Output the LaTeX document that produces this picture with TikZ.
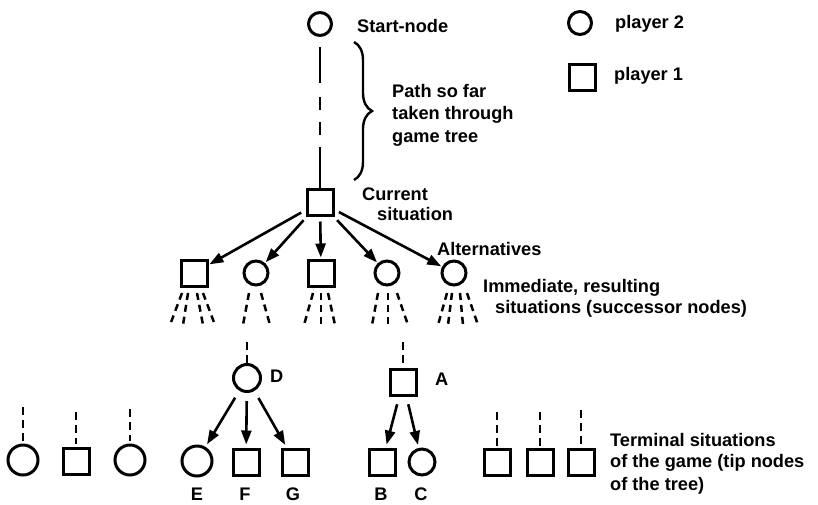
\documentclass[tikz,border=0pt]{standalone}
\usepackage{fontspec}
\setmainfont{Liberation Sans}
\usetikzlibrary{arrows.meta,calc,decorations.pathreplacing}
\begin{document}
\begin{tikzpicture}[x=1pt,y=-1pt,
  sq/.style={draw,line width=3pt,minimum size=26pt,inner sep=0pt},
  circ/.style={draw,circle,line width=3pt,minimum size=#1,inner sep=0pt},
  circ/.default=24pt,
  lbl/.style={anchor=base west,inner sep=0pt,font=\fontsize{18.2}{20}\selectfont\bfseries},
  clbl/.style={anchor=base,inner sep=0pt,font=\fontsize{18.2}{20}\selectfont\bfseries},
  arr/.style={line width=2.6pt,-{Triangle[length=14pt,width=10pt]},shorten <=5pt,shorten >=1pt},
  arrlow/.style={line width=2.6pt,-{Triangle[length=14pt,width=10pt]},shorten <=8pt,shorten >=3pt},
  fan/.style={line width=2.5pt,dash pattern=on 7pt off 5pt},
  dsh/.style={line width=2.5pt,dash pattern=on 8pt off 5pt},
  pathline/.style={line width=2.5pt,dash pattern=on 36pt off 14pt on 13pt off 12pt on 13pt off 12pt on 300pt off 1pt,shorten <=10pt},
  bracestyle/.style={line width=2.4pt,decorate,decoration={brace,amplitude=18pt}}
]
\useasboundingbox (0,0) rectangle (818,504);

% legend
\node[circ=23pt] (leg2) at (580,23) {};
\node[lbl] (tleg2) at (615,28) {player 2};
\node[sq] (leg1) at (582,77) {};
\node[lbl] (tleg1) at (614,80) {player 1};

% start and path
\node[circ=23pt] (start) at (320,24) {};
\node[lbl] (tstart) at (357,32) {Start-node};
\node[sq] (cur) at (320,202) {};
\draw[pathline] (start) -- (cur);
\coordinate (btop) at (354,42);
\coordinate (bbot) at (354,180);
\draw[bracestyle] (btop) -- (bbot);
\node[lbl] (tp1) at (392,97) {Path so far};
\node[lbl] (tp2) at (392,119.5) {taken through};
\node[lbl] (tp3) at (392,142) {game tree};
\node[lbl] (tc1) at (362,200) {Current};
\node[lbl] (tc2) at (377,220) {situation};

% successors
\node[sq] (s1) at (194,273) {};
\node[circ] (s2) at (256,273) {};
\node[sq] (s3) at (321,273) {};
\node[circ] (s4) at (387,273) {};
\node[circ] (s5) at (454,273) {};
\foreach \s in {s1,s2,s3,s4,s5} \draw[arr] (cur) -- (\s);
\node[lbl] (talt) at (437,255) {Alternatives};
\node[lbl] (tim1) at (483,292) {Immediate, resulting};
\node[lbl] (tim2) at (495,313) {situations (successor nodes)};

% fans
\foreach \a/\b in {-12/-24,-6/-11,3/9,9/21} \draw[fan] ($(s1)+(\a,20)$) -- ($(s1)+(\b,52)$);
\foreach \a/\b in {-7/-13,5/14} \draw[fan] ($(s2)+(\a,20)$) -- ($(s2)+(\b,52)$);
\foreach \a/\b in {-8/-17,0/0,7/14} \draw[fan] ($(s3)+(\a,20)$) -- ($(s3)+(\b,52)$);
\foreach \a/\b in {-9/-15,1/1,10/21} \draw[fan] ($(s4)+(\a,20)$) -- ($(s4)+(\b,52)$);
\foreach \a/\b in {-7/-16,-2/-6,6/9,13/24} \draw[fan] ($(s5)+(\a,20)$) -- ($(s5)+(\b,52)$);

% D subtree
\node[circ=27pt] (D) at (247,378) {};
\node[lbl] (tD) at (270,382) {D};
\coordinate (dtop) at (247,342);
\draw[dsh] (dtop) -- (D);
\node[circ=30pt] (E) at (197,461) {};
\node[sq] (F) at (246,462) {};
\node[sq] (G) at (295,462) {};
\draw[arrlow] (D) -- (E);
\draw[arrlow] (D) -- (F);
\draw[arrlow] (D) -- (G);
\node[clbl] (tE) at (197,500) {E};
\node[clbl] (tF) at (245,500) {F};
\node[clbl] (tG) at (293,500) {G};

% A subtree
\node[sq] (A) at (403,382) {};
\node[lbl] (tA) at (435,385) {A};
\coordinate (atop) at (403,342);
\draw[dsh] (atop) -- (A);
\node[sq] (B) at (382,462) {};
\node[circ=26pt] (C) at (422,462) {};
\draw[arrlow] (A) -- (B);
\draw[arrlow] (A) -- (C);
\node[clbl] (tB) at (381,500) {B};
\node[clbl] (tC) at (421,500) {C};

% terminal nodes left
\node[circ=30pt] (t1) at (23,460) {};
\node[sq] (t2) at (76,461) {};
\node[circ=30pt] (t3) at (130,460) {};
\coordinate (u1) at (23,407);
\coordinate (u2) at (76,412);
\coordinate (u3) at (130,409);
\draw[dsh,shorten >=3pt] (u1) -- (t1);
\draw[dsh,shorten >=3pt] (u2) -- (t2);
\draw[dsh,shorten >=3pt] (u3) -- (t3);

% terminal nodes right
\node[sq] (r1) at (497,462) {};
\node[sq] (r2) at (540,462) {};
\node[sq] (r3) at (581,462) {};
\coordinate (v1) at (497,412);
\coordinate (v2) at (540,412);
\coordinate (v3) at (581,410);
\draw[dsh,shorten >=2pt] (v1) -- (r1);
\draw[dsh,shorten >=2pt] (v2) -- (r2);
\draw[dsh,shorten >=2pt] (v3) -- (r3);
\node[lbl] (tt1) at (610,446) {Terminal situations};
\node[lbl] (tt2) at (610,467) {of the game (tip nodes};
\node[lbl] (tt3) at (610,490) {of the tree)};
\end{tikzpicture}
\end{document}
